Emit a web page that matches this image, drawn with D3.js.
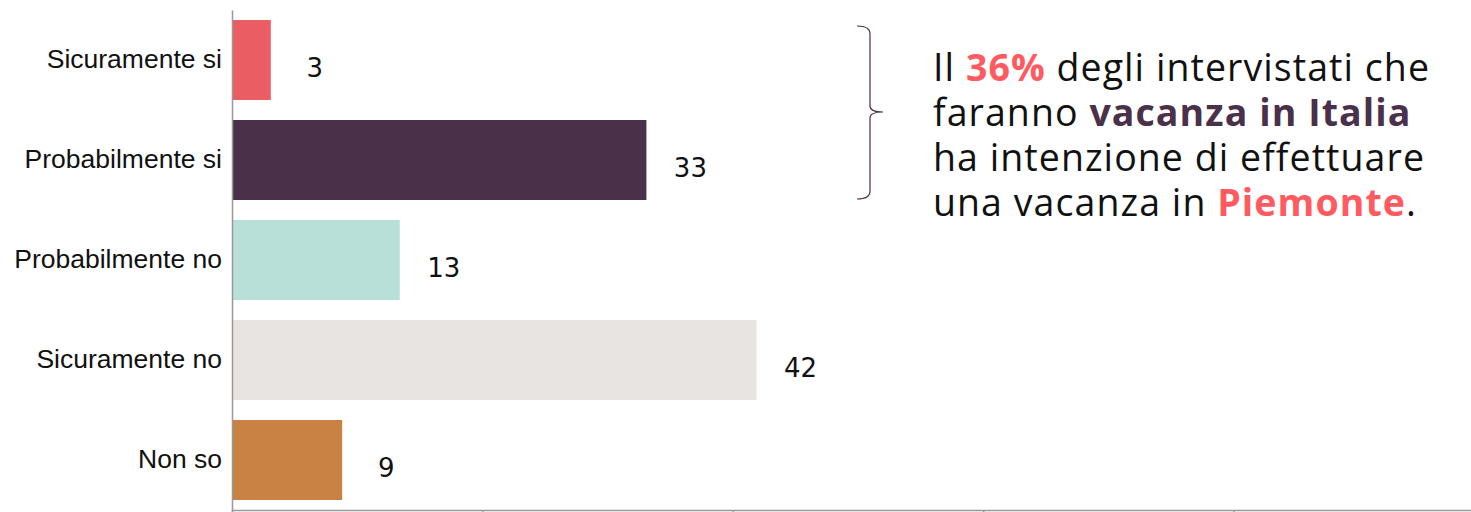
<!DOCTYPE html>
<html>
<head>
<meta charset="utf-8">
<script src="https://cdn.jsdelivr.net/npm/d3@7"></script>
<style>
  html, body { margin: 0; padding: 0; background: #fff; }
  svg { display: block; }
</style>
</head>
<body>
<div id="chart"></div>
<script>
const categorie = ["Sicuramente si", "Probabilmente si", "Probabilmente no", "Sicuramente no", "Non so"];
const valori = [3.1, 33.1, 13.4, 41.9, 8.8];
const colori = ["#ea5d63", "#4a3049", "#b8e0d9", "#e8e4e1", "#c88243"];
const xTicks = [0, 20, 40, 60, 80, 100];

// Testo a destra: ogni riga è una lista di pezzi [testo, stile]
const righe = [
  [["Il ", "n"], ["36%", "rosso"], [" degli intervistati che", "n"]],
  [["faranno ", "n"], ["vacanza in Italia", "viola"]],
  [["ha intenzione di effettuare", "n"]],
  [["una vacanza in ", "n"], ["Piemonte", "rosso"], [".", "n"]]
];

const width = 1471, height = 512;

const svg = d3.select("#chart").append("svg")
  .attr("width", width)
  .attr("height", height);

const x = d3.scaleLinear().domain([0, 100]).range([232, 1484]);
const y = d3.scaleBand().domain(categorie).range([10, 510])
  .paddingInner(0.2).paddingOuter(0.1);
const fmt = d3.format(".0f");

// Barre
svg.selectAll(".bar")
  .data(valori)
  .enter()
  .append("rect")
  .attr("class", "bar")
  .attr("x", x(0))
  .attr("y", (d, i) => y(categorie[i]))
  .attr("width", d => x(d) - x(0))
  .attr("height", y.bandwidth())
  .attr("fill", (d, i) => colori[i]);

// Valori
svg.selectAll(".val")
  .data(valori)
  .enter()
  .append("text")
  .attr("class", "val")
  .attr("x", d => x(d) + 44)
  .attr("y", (d, i) => y(categorie[i]) + y.bandwidth() / 2 + 17)
  .attr("text-anchor", "middle")
  .attr("font-family", "'DejaVu Sans', Verdana, sans-serif")
  .attr("font-size", "26px")
  .attr("fill", "#111")
  .text(d => fmt(d));

// Asse x (solo linea e tacche)
const xAxis = svg.append("g")
  .attr("transform", `translate(0, ${510})`)
  .call(d3.axisBottom(x).tickValues(xTicks).tickSize(12).tickFormat(""));
xAxis.select(".domain").attr("stroke", "#999").attr("stroke-width", 1.5);
xAxis.selectAll(".tick line").attr("stroke", "#999").attr("stroke-width", 1.5);

// Asse y
const yAxis = svg.append("g")
  .attr("transform", `translate(${x(0)}, 0)`)
  .call(d3.axisLeft(y).tickSize(0).tickPadding(10));
yAxis.select(".domain").attr("stroke", "#999").attr("stroke-width", 1.5);
yAxis.selectAll(".tick text")
  .attr("font-family", "'Liberation Sans', Arial, sans-serif")
  .attr("font-size", "26.5px")
  .attr("fill", "#111");

// Parentesi graffa
const b = { x: 870, top: 26, mid: 112, bot: 199, w: 13 };
svg.append("path")
  .attr("d", `M${b.x - b.w},${b.top} Q${b.x},${b.top} ${b.x},${b.top + 8}
              L${b.x},${b.mid - 6} Q${b.x},${b.mid} ${b.x + b.w},${b.mid}
              Q${b.x},${b.mid} ${b.x},${b.mid + 6}
              L${b.x},${b.bot - 8} Q${b.x},${b.bot} ${b.x - b.w},${b.bot}`)
  .attr("fill", "none")
  .attr("stroke", "#4a3049")
  .attr("stroke-width", 1.2);

// Testo a destra
const stili = {
  n: { fill: "#111", weight: 400 },
  rosso: { fill: "#ff5a5f", weight: 700 },
  viola: { fill: "#4a3049", weight: 700 }
};
const nota = svg.append("g").attr("font-family", "'Open Sans', 'Noto Sans', sans-serif")
  .attr("font-size", "37.5px");

const righeTxt = nota.selectAll("text")
  .data(righe)
  .enter()
  .append("text")
  .attr("x", 933)
  .attr("y", (d, i) => 81 + i * 45);

righeTxt.selectAll("tspan")
  .data(d => d)
  .enter()
  .append("tspan")
  .attr("fill", d => stili[d[1]].fill)
  .attr("font-weight", d => stili[d[1]].weight)
  .style("white-space", "pre")
  .text(d => d[0]);

// allarga le lettere per avvicinarsi alla larghezza del riferimento
const riga3 = righeTxt.nodes()[2];
const larghezza = riga3.getComputedTextLength();
const n = "ha intenzione di effettuare".length;
const ls = (492 - larghezza) / n;
nota.attr("letter-spacing", ls + "px");
</script>
</body>
</html>
